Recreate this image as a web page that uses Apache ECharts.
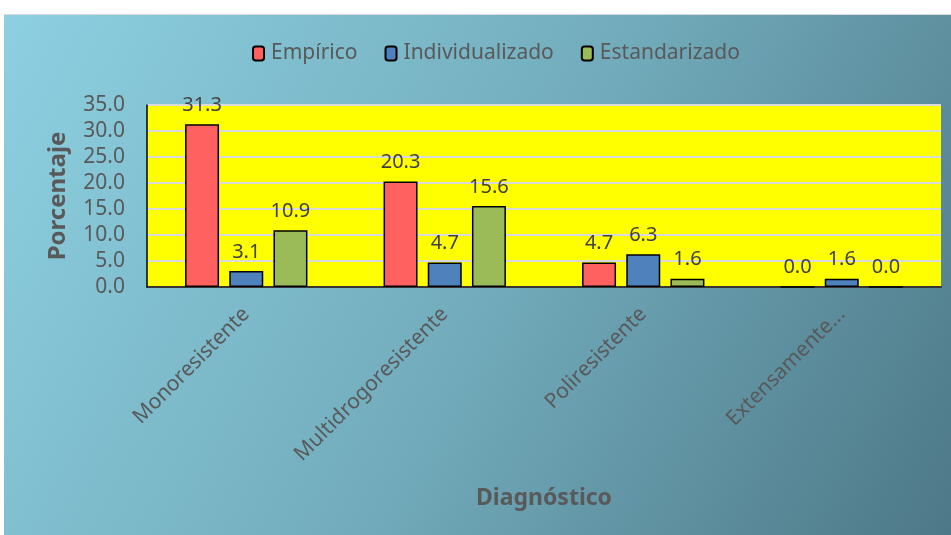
<!DOCTYPE html>
<html>
<head>
<meta charset="utf-8">
<script src="https://cdn.jsdelivr.net/npm/echarts@6/dist/echarts.min.js"></script>
<style>
  html, body { margin: 0; padding: 0; background: #fff; }
  #chart { position: absolute; left: 4px; top: 14px; width: 947px; height: 521px; border-top: 1px solid #d9d9d9; box-sizing: border-box; }
</style>
</head>
<body>
<div id="chart"></div>
<script>
var categories = ['Monoresistente', 'Multidrogoresistente', 'Poliresistente', 'Extensamente...'];
var empirico = [31.3, 20.3, 4.7, 0.0];
var individualizado = [3.1, 4.7, 6.3, 1.6];
var estandarizado = [10.9, 15.6, 1.6, 0.0];
var yTicks = [0, 5, 10, 15, 20, 25, 30, 35];

var myChart = echarts.init(document.getElementById('chart'));
var txt = '#595959';
var fontFam = '"Noto Sans", sans-serif';

function barSeries(name, data, color) {
  return {
    name: name,
    type: 'bar',
    data: data,
    barWidth: 34,
    barGap: '30%',
    itemStyle: { color: color, borderColor: '#000', borderWidth: 1.5 },
    label: {
      show: true,
      position: 'top',
      distance: 9,
      color: '#404040',
      fontSize: 20,
      fontFamily: fontFam,
      formatter: function(p) { return p.value.toFixed(1); }
    }
  };
}

var option = {
  backgroundColor: {
    type: 'linear', x: 0, y: 0, x2: 1, y2: 1,
    colorStops: [
      { offset: 0, color: '#8dd0e1' },
      { offset: 0.5, color: '#73adbd' },
      { offset: 1, color: '#4d7887' }
    ]
  },
  textStyle: { fontFamily: fontFam },
  legend: {
    top: 23,
    left: 243,
    itemWidth: 11,
    itemHeight: 14,
    itemGap: 27,
    textStyle: { color: txt, fontSize: 21, fontFamily: fontFam, padding: [0, 0, 0, 2] },
    data: ['Empírico', 'Individualizado', 'Estandarizado']
  },
  grid: {
    left: 143, top: 90, right: 10, bottom: 248,
    show: true,
    backgroundColor: '#ffff00',
    borderWidth: 0
  },
  xAxis: {
    type: 'category',
    data: categories,
    name: 'Diagnóstico',
    nameLocation: 'middle',
    nameGap: 200,
    nameTextStyle: { color: txt, fontSize: 23, fontWeight: 'bold', fontFamily: fontFam },
    axisLine: { lineStyle: { color: '#000', width: 1.5 } },
    axisTick: { show: false },
    axisLabel: { rotate: 45, color: txt, fontSize: 21, margin: 24, interval: 0, fontFamily: fontFam }
  },
  yAxis: {
    type: 'value',
    min: 0,
    max: 35,
    interval: 5,
    name: 'Porcentaje',
    nameLocation: 'middle',
    nameGap: 77,
    nameTextStyle: { color: txt, fontSize: 24, fontWeight: 'bold', fontFamily: fontFam },
    axisLine: { show: true, lineStyle: { color: '#000', width: 1.5 } },
    axisTick: { show: false },
    splitLine: { lineStyle: { color: '#d9d9d9', width: 2 } },
    axisLabel: {
      color: txt, fontSize: 21, margin: 22, fontFamily: fontFam,
      formatter: function(v) { return yTicks.indexOf(v) >= 0 ? v.toFixed(1) : ''; }
    }
  },
  series: [
    barSeries('Empírico', empirico, '#ff6161'),
    barSeries('Individualizado', individualizado, '#4f81bd'),
    barSeries('Estandarizado', estandarizado, '#9bbb59')
  ]
};
myChart.setOption(option);
</script>
</body>
</html>
